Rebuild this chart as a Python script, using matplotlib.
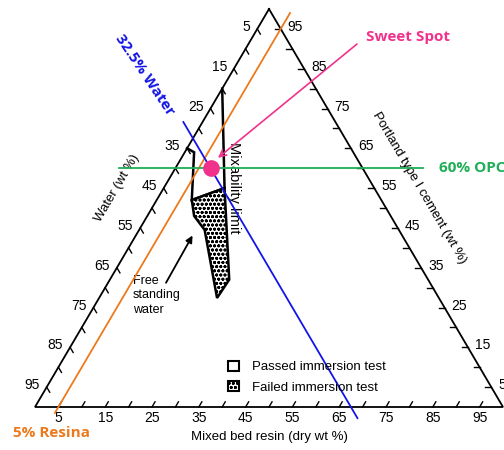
import numpy as np
import matplotlib
matplotlib.use("Agg")
import matplotlib.pyplot as plt
from matplotlib.patches import Polygon, Patch

plt.rcParams['font.family'] = ['Liberation Sans', 'DejaVu Sans']
plt.rcParams['hatch.linewidth'] = 0.9

# ternary data (wt %): cement, resin; water is the remainder
tick_values = np.arange(5, 100, 5)
label_values = np.arange(5, 100, 10)

# passed outline: left boundary, top of failed zone, mixability limit
passed_cement = [65, 64, 52, 55, 80]
passed_resin = [0, 2, 7.5, 13, 0]
failed_cement = [52, 55, 32, 27.4, 44.5, 48]
failed_resin = [7.5, 13, 25.5, 25.2, 14, 10]

water_line = 32.5     # blue, constant water
cement_line = 60      # green, constant OPC
resin_line = 5        # orange, constant resin
sweet_spot = (60, 7.5)  # cement, resin

H = 398 / 468   # triangle height (units of base length)
PX = 1 / 468    # one pixel in data units


def tern(cement, resin):
    c = np.asarray(cement, float) / 100
    r = np.asarray(resin, float) / 100
    return r + 0.5 * c, c * H


fig = plt.figure(figsize=(5.04, 4.5), dpi=100)
ax = fig.add_axes([0, 0, 1, 1])
ax.set_xlim(-35 * PX, 469 * PX)
ax.set_ylim(-43 * PX, 407 * PX)
ax.axis('off')

# frame
fx, fy = tern([100, 0, 0, 100], [0, 0, 100, 0])
ax.plot(fx, fy, color='black', lw=1.3, solid_joinstyle='miter', zorder=3)

# ticks along the three edges
tl = 6 * PX
norm = np.hypot(0.5, H)
dl = np.array([0.5, -H]) / norm   # constant water direction
db = np.array([0.5, H]) / norm    # constant resin direction
for v in tick_values:
    # bottom: resin axis
    x, y = tern(0, v)
    ax.plot([x, x + tl * db[0]], [y, y + tl * db[1]], color='black', lw=1, zorder=3)
    # left: water axis (resin = 0)
    x, y = tern(100 - v, 0)
    ax.plot([x, x + tl * dl[0]], [y, y + tl * dl[1]], color='black', lw=1, zorder=3)
    # right: cement axis (water = 0)
    x, y = tern(v, 100 - v)
    ax.plot([x, x - tl], [y, y], color='black', lw=1, zorder=3)

tick_font = dict(fontsize=10, color='black')
for v in label_values:
    x, y = tern(0, v)
    ax.text(x, y - 11 * PX, f'{v}', ha='center', va='center', **tick_font)
    x, y = tern(100 - v, 0)
    ax.text(x - 7 * PX, y + 2 * PX, f'{v}', ha='right', va='center', **tick_font)
    x, y = tern(v, 100 - v)
    ax.text(x + 7 * PX, y + 2 * PX, f'{v}', ha='left', va='center', **tick_font)

# axis titles
ax.text(0.5, -30 * PX, 'Mixed bed resin (dry wt %)', ha='center', va='center', fontsize=9.5)
ang = np.degrees(np.arctan2(H, 0.5))
x, y = tern(50, 0)
ax.text(x - 40 * PX * H / norm, y + 40 * PX * 0.5 / norm, 'Water (wt %)', rotation=ang,
        ha='center', va='center', fontsize=9.5, rotation_mode='anchor')
x, y = tern(50, 50)
ax.text(x + 39 * PX * H / norm, y + 39 * PX * 0.5 / norm,
        'Portland type I cement (wt %)', rotation=-ang,
        ha='center', va='center', fontsize=9.5, rotation_mode='anchor')

# regions
px_, py_ = tern(passed_cement, passed_resin)
ax.plot(px_, py_, color='black', lw=1.8, solid_joinstyle='miter', zorder=4)
qx, qy = tern(failed_cement, failed_resin)
ax.add_patch(Polygon(np.column_stack([qx, qy]), closed=True, facecolor='white',
                     edgecolor='black', hatch='oooo', lw=1.8, zorder=4))

x, y = tern(55, 13)
ax.text(x + 9 * PX, y, 'Mixability limit', rotation=-90, ha='center', va='center',
        fontsize=10.5, zorder=5)

# free standing water arrow
x0, y0 = tern(30.6, 12.4)
x1, y1 = tern(43.7, 12.1)
ax.annotate('', xy=(x1, y1), xytext=(x0, y0),
            arrowprops=dict(arrowstyle='-|>', color='black', lw=1.3, mutation_scale=10))
ax.text(x0 - 32 * PX, y0 + 10 * PX, 'Free\nstanding\nwater', ha='left', va='top',
        fontsize=9, linespacing=1.25)

# legend
ax.legend(handles=[Patch(facecolor='white', edgecolor='black', lw=1.5, label='Passed immersion test'),
                   Patch(facecolor='white', edgecolor='black', lw=1.5, hatch='oooo',
                         label='Failed immersion test')],
          loc='upper left', bbox_to_anchor=(228 / 504, 1 - 361 / 450), frameon=False,
          handlelength=0.8, handleheight=0.75, handletextpad=1.0, labelspacing=0.6,
          fontsize=9.5, borderaxespad=0, borderpad=0)

# reference lines
c = np.array([99, -1.5])
ax.plot(*tern(c, [resin_line] * 2), color='#EC7A1C', lw=1.3, zorder=5)
c = np.array([71.6, -2.8])
ax.plot(*tern(c, 100 - water_line - c), color='#1414E6', lw=1.3, zorder=5)
ax.plot(*tern([cement_line] * 2, [-12, 53]), color='#1FAE55', lw=1.3, zorder=5)

sx, sy = tern(*sweet_spot)
ax.plot(sx, sy, 'o', color='#F0328C', ms=11, zorder=6)
x0, y0 = tern(91.2, 23.2)
x1, y1 = tern(62.6, 7.8)
ax.annotate('', xy=(x1, y1), xytext=(x0, y0), zorder=6,
            arrowprops=dict(arrowstyle='->', color='#F0328C', lw=1.2, mutation_scale=12,
                            shrinkA=0, shrinkB=0))

bold = dict(fontfamily=['Open Sans', 'DejaVu Sans'], fontweight='bold', fontsize=11)
ax.text(x0 + 9 * PX, y0 + 7 * PX, 'Sweet Spot', color='#F0328C', ha='left', va='center', **bold)
ax.text(404 * PX, tern(cement_line, 0)[1], '60% OPC', color='#1FAE55', ha='left',
        va='center', clip_on=False, **bold)
ax.text(-22 * PX, -26 * PX, '5% Resina', color='#EC7A1C', ha='left', va='center', **bold)
ax.text(110 * PX, 332 * PX, '32.5% Water', color='#1414E6', rotation=-56,
        ha='center', va='center', **bold)

fig.savefig('out.png', dpi=100)
